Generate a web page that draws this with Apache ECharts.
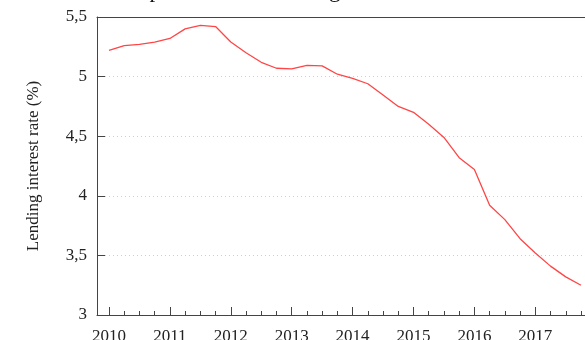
<!DOCTYPE html>
<html>
<head>
<meta charset="utf-8">
<script src="https://cdn.jsdelivr.net/npm/echarts@6/dist/echarts.min.js"></script>
<style>
  html, body { margin: 0; padding: 0; background: #fff; }
  #chart { width: 585px; height: 340px; }
</style>
</head>
<body>
<div id="chart"></div>
<script>
// Quarterly observations, expressed as decimal years
const periods = [
  2010.00, 2010.25, 2010.50, 2010.75,
  2011.00, 2011.25, 2011.50, 2011.75,
  2012.00, 2012.25, 2012.50, 2012.75,
  2013.00, 2013.25, 2013.50, 2013.75,
  2014.00, 2014.25, 2014.50, 2014.75,
  2015.00, 2015.25, 2015.50, 2015.75,
  2016.00, 2016.25, 2016.50, 2016.75,
  2017.00, 2017.25, 2017.50, 2017.75
];
// Lending interest rate (%)
const lendingRate = [
  5.22, 5.26, 5.27, 5.29,
  5.32, 5.40, 5.43, 5.42,
  5.29, 5.20, 5.12, 5.07,
  5.065, 5.095, 5.09, 5.02,
  4.985, 4.94, 4.845, 4.75,
  4.70, 4.60, 4.49, 4.32,
  4.22, 3.92, 3.80, 3.64,
  3.52, 3.41, 3.32, 3.25
];
const yearTicks = [2010, 2011, 2012, 2013, 2014, 2015, 2016, 2017];
const quarterTicks = [
  2010.25, 2010.5, 2010.75, 2011.25, 2011.5, 2011.75,
  2012.25, 2012.5, 2012.75, 2013.25, 2013.5, 2013.75,
  2014.25, 2014.5, 2014.75, 2015.25, 2015.5, 2015.75,
  2016.25, 2016.5, 2016.75, 2017.25, 2017.5, 2017.75
];
const titleText = 'Development of the lending rate';
const yAxisTitle = 'Lending interest rate (%)';

const serif = '"Liberation Serif", "Times New Roman", serif';
const axisColor = '#444';
const xMin = 2009.803, xMax = 2017.816;

const chart = echarts.init(document.getElementById('chart'), null, { renderer: 'canvas' });
chart.setOption({
  animation: false,
  backgroundColor: '#fff',
  title: {
    text: titleText,
    left: 83,
    top: -21,
    padding: 0,
    textStyle: { fontFamily: serif, fontSize: 23, fontWeight: 'normal', color: '#111' }
  },
  grid: { left: 97, right: 0, top: 17, bottom: 25, containLabel: false, outerBoundsMode: 'none' },
  xAxis: [
    {
      type: 'value', position: 'bottom', min: xMin, max: xMax,
      axisLine: { show: true, lineStyle: { color: axisColor, width: 1 } },
      axisTick: { show: true, inside: true, length: 8, customValues: yearTicks,
                  lineStyle: { color: axisColor } },
      axisLabel: { show: true, customValues: yearTicks, margin: 13,
                   fontFamily: serif, fontSize: 17, color: '#222',
                   formatter: v => String(Math.round(v)) },
      splitLine: { show: false }
    },
    {
      type: 'value', position: 'bottom', min: xMin, max: xMax,
      axisLine: { show: false },
      axisTick: { show: true, inside: true, length: 4, customValues: quarterTicks,
                  lineStyle: { color: axisColor } },
      axisLabel: { show: false },
      splitLine: { show: false }
    },
    {
      type: 'value', position: 'top', min: xMin, max: xMax,
      axisLine: { show: true, lineStyle: { color: axisColor, width: 1 } },
      axisTick: { show: false },
      axisLabel: { show: false },
      splitLine: { show: false }
    }
  ],
  yAxis: {
    type: 'value', min: 3, max: 5.5, interval: 0.5,
    name: yAxisTitle, nameLocation: 'middle', nameGap: 55,
    nameTextStyle: { fontFamily: serif, fontSize: 17, color: '#222' },
    axisLine: { show: true, lineStyle: { color: axisColor, width: 1 } },
    axisTick: { show: true, inside: true, length: 8, lineStyle: { color: axisColor } },
    axisLabel: { margin: 10, fontFamily: serif, fontSize: 17, color: '#222',
                 formatter: v => String(v).replace('.', ',') },
    splitLine: { show: true, lineStyle: { color: '#cfcfcf', type: [1, 3], width: 1 } }
  },
  series: [{
    type: 'line',
    xAxisIndex: 0,
    data: periods.map((p, i) => [p, lendingRate[i]]),
    showSymbol: false,
    lineStyle: { color: '#ff4545', width: 1.3 },
    itemStyle: { color: '#ff4545' }
  }]
});
</script>
</body>
</html>
